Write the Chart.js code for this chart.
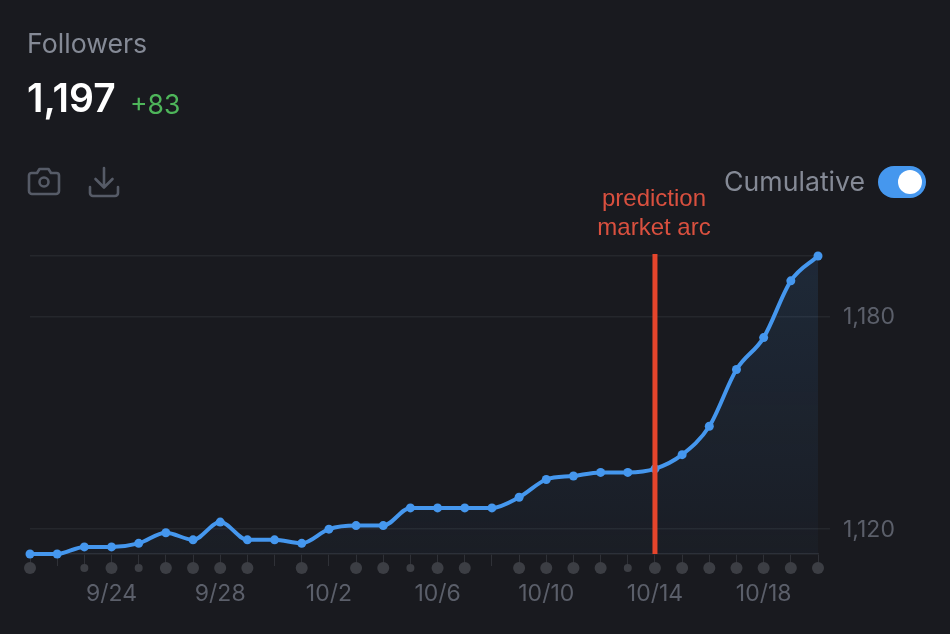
<!DOCTYPE html>
<html>
<head>
<meta charset="utf-8">
<title>Followers</title>
<script src="https://cdn.jsdelivr.net/npm/chart.js@4"></script>
<style>
  html, body { margin: 0; padding: 0; background: #191a1f; }
  body { width: 950px; height: 634px; overflow: hidden; position: relative; font-family: Inter, sans-serif; }
  #chart { position: absolute; left: 0; top: 0; }
  #dots { position: absolute; left: 0; top: 556px; }
  .abs { position: absolute; white-space: nowrap; }
  #title { left: 27px; top: 28px; font-size: 26.7px; line-height: 30px; color: #858a96; }
  #total { left: 27px; top: 74px; font-size: 39px; line-height: 48px; font-weight: 600; color: #fff; }
  #delta { left: 130px; top: 88px; font-size: 26.5px; line-height: 32px; color: #4eb55a; }
  #cumulative { left: 724px; top: 165px; font-size: 26.7px; line-height: 32px; color: #858a96; }
  #toggle { left: 878px; top: 166px; width: 48px; height: 32px; border-radius: 16px; background: #4597ee; }
  #toggle div { position: absolute; left: 20px; top: 4px; width: 24px; height: 24px; border-radius: 12px; background: #fff; }
  #note { left: 554px; width: 200px; top: 183px; text-align: center; font-family: "Liberation Sans", Arial, sans-serif; font-size: 24px; line-height: 29px; color: #d9503f; white-space: normal; }
  svg.abs { fill: none; stroke: #565b67; stroke-width: 2.6; stroke-linecap: round; stroke-linejoin: round; }
</style>
</head>
<body>
<canvas id="chart" width="950" height="634"></canvas>
<canvas id="dots" width="950" height="24"></canvas>
<div class="abs" id="title">Followers</div>
<div class="abs" id="total">1,197</div>
<div class="abs" id="delta">+83</div>
<svg class="abs" style="left:26px;top:166px" width="36" height="32" viewBox="0 0 36 32">
  <path d="M3 9.500a2.500 2.500 0 0 1 2.500-2.500h5.500l2.500-4h9l2.500 4h5.500a2.500 2.500 0 0 1 2.500 2.500v15.500a3 3 0 0 1-3 3h-24a3 3 0 0 1-3-3z"/>
  <circle cx="18" cy="16" r="4.500"/>
</svg>
<svg class="abs" style="left:87px;top:165px" width="34" height="34" viewBox="0 0 34 34">
  <path d="M17 3v19M8.500 14l8.500 8.500 8.500-8.500M3 22v6a3 3 0 0 0 3 3h22a3 3 0 0 0 3-3v-6"/>
</svg>
<div class="abs" id="cumulative">Cumulative</div>
<div class="abs" id="toggle"><div></div></div>
<div class="abs" id="note">prediction<br>market arc</div>
<script>
//-----------------------------------------------------------------------------
// Data
const days = ['9/21','9/22','9/23','9/24','9/25','9/26','9/27','9/28','9/29','9/30',
  '10/1','10/2','10/3','10/4','10/5','10/6','10/7','10/8','10/9','10/10',
  '10/11','10/12','10/13','10/14','10/15','10/16','10/17','10/18','10/19','10/20'];
const followers = [1113,1113,1115,1115,1116,1119,1117,1122,1117,1117,
  1116,1120,1121,1121,1126,1126,1126,1126,1129,1134,
  1135,1136,1136,1137,1141,1149,1165,1174,1190,1197];
// activity per day: 0 nothing, 1 small dot, 2 big dot
const activity = [2,0,1,2,1,2,2,2,2,0,
  2,0,2,2,1,2,2,0,2,2,
  2,2,1,2,2,2,2,2,2,2];
const yTicks = [1120, 1180, 1197];
const labelledDays = ['9/24','9/28','10/2','10/6','10/10','10/14','10/18'];
const markerDay = '10/14';

//-----------------------------------------------------------------------------
// Main chart
const tickText = '#5b5f6a';
const dotRadius = [0, 4, 6];

const markerLine = {
  id: 'markerLine',
  afterDatasetsDraw(chart) {
    const {ctx, chartArea, scales} = chart;
    const x = scales.x.getPixelForValue(markerDay);
    ctx.save();
    ctx.fillStyle = '#e5452c';
    ctx.fillRect(x - 2.5, chartArea.top - 2, 5, chartArea.bottom - chartArea.top + 2);
    ctx.restore();
  }
};

new Chart(document.getElementById('chart'), {
  type: 'line',
  data: {
    labels: days,
    datasets: [
      {
        data: followers,
        borderColor: '#4597ee',
        borderWidth: 4,
        pointRadius: 4.5,
        pointBackgroundColor: '#4597ee',
        pointBorderWidth: 0,
        cubicInterpolationMode: 'monotone',
        clip: false,
        fill: 'start',
        backgroundColor(c) {
          const area = c.chart.chartArea;
          if (!area) return 'transparent';
          const g = c.chart.ctx.createLinearGradient(0, area.top, 0, area.bottom);
          g.addColorStop(0, 'rgba(69,151,238,0.12)');
          g.addColorStop(1, 'rgba(69,151,238,0.03)');
          return g;
        }
      }
    ]
  },
  options: {
    responsive: false,
    animation: false,
    devicePixelRatio: 1,
    layout: { padding: { left: 30, top: 256, right: 0, bottom: 0 } },
    plugins: { legend: { display: false }, tooltip: { enabled: false } },
    scales: {
      x: {
        afterFit(s) { s.height = 80; },
        border: { color: '#2b2d33', width: 1.5 },
        grid: { drawOnChartArea: false, drawTicks: true, tickLength: 12, tickColor: '#2f3137' },
        ticks: {
          autoSkip: false,
          maxRotation: 0,
          padding: 14,
          color: tickText,
          font: { family: 'Inter', size: 23 },
          callback(v) {
            const d = this.getLabelForValue(v);
            return labelledDays.includes(d) ? d : '';
          }
        }
      },
      y: {
        position: 'right',
        min: 1113,
        max: 1197,
        afterBuildTicks(s) { s.ticks = yTicks.map(v => ({value: v})); },
        afterFit(s) { s.width = 132; },
        border: { display: false },
        grid: {
          color: '#25272c',
          lineWidth: 1.5,
          tickLength: 12,
          tickColor(c) { return c.tick && c.tick.value === 1197 ? 'transparent' : '#25272c'; }
        },
        ticks: {
          padding: 13,
          labelOffset: 1,
          color: tickText,
          font: { family: 'Inter', size: 23 },
          callback(v) { return v === 1197 ? '' : v.toLocaleString('en-US'); }
        }
      }
    }
  },
  plugins: [markerLine]
});

//-----------------------------------------------------------------------------
// Activity dots, a strip under the axis on the same day scale
new Chart(document.getElementById('dots'), {
  type: 'line',
  data: {
    labels: days,
    datasets: [
      {
        data: activity.map(a => a ? 0.5 : null),
        showLine: false,
        clip: false,
        pointRadius: activity.map(a => dotRadius[a]),
        pointBackgroundColor: '#3c3e44',
        pointBorderWidth: 0
      }
    ]
  },
  options: {
    responsive: false,
    animation: false,
    devicePixelRatio: 1,
    layout: { padding: { left: 30, right: 132 } },
    plugins: { legend: { display: false }, tooltip: { enabled: false } },
    scales: {
      x: { display: false },
      y: { display: false, min: 0, max: 1 }
    }
  }
});
</script>
</body>
</html>
